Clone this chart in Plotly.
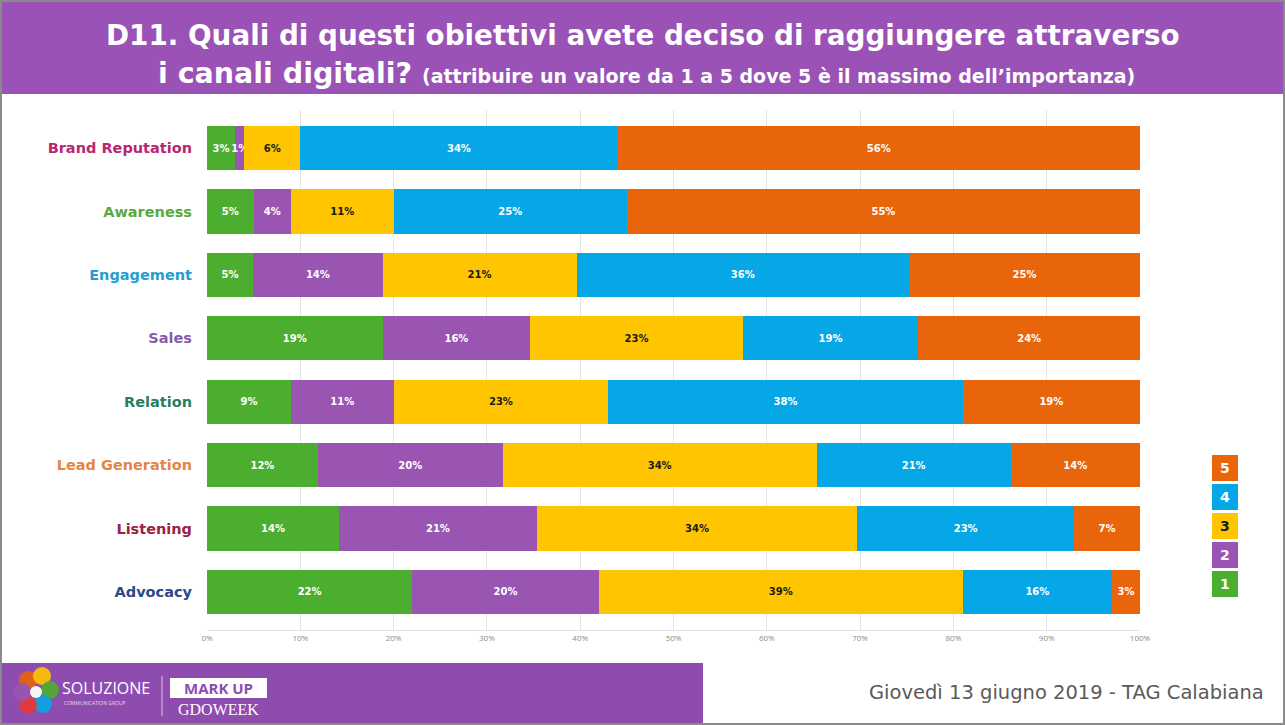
import plotly.graph_objects as go

# Survey objectives (top to bottom) and the share of answers per importance score
categories = ["Brand Reputation", "Awareness", "Engagement", "Sales", "Relation",
              "Lead Generation", "Listening", "Advocacy"]
category_colors = ["#b8266f", "#5aa83e", "#1f9fd2", "#8a5aab", "#2a7d5e",
                   "#e58443", "#9b2146", "#2b4a8a"]

levels = ["1", "2", "3", "4", "5"]
score_1 = [3, 5, 5, 19, 9, 12, 14, 22]
score_2 = [1, 4, 14, 16, 11, 20, 21, 20]
score_3 = [6, 11, 21, 23, 23, 34, 34, 39]
score_4 = [34, 25, 36, 19, 38, 21, 23, 16]
score_5 = [56, 55, 25, 24, 19, 14, 7, 3]
series = [score_1, score_2, score_3, score_4, score_5]

level_colors = ["#4cae2f", "#9a55b3", "#fec500", "#06a7e6", "#e8650c"]
level_text = ["white", "white", "#1a1a1a", "white", "white"]

x_ticks = list(range(0, 101, 10))
x_tick_labels = [f"{t}%" for t in x_ticks]

W, H = 1285, 725
PL, PR, PT, PB = 207, 1140, 110, 630  # plot area in pixels


def px(x):
    return (x - PL) / (PR - PL)


def py(y):
    return (PB - y) / (PB - PT)


fig = go.Figure()
for name, vals, col, tcol in zip(levels, series, level_colors, level_text):
    fig.add_trace(go.Bar(
        y=categories, x=vals, name=name, orientation="h",
        marker=dict(color=col, line=dict(width=0)),
        text=[f"<b>{v}%</b>" for v in vals],
        textposition="inside", insidetextanchor="middle", textangle=0,
        textfont=dict(family="DejaVu Sans, sans-serif", size=10, color=tcol),
        showlegend=False,
    ))

shapes = []
annotations = []

# header band
shapes.append(dict(type="rect", xref="paper", yref="paper", x0=px(0), x1=px(W),
                   y0=py(94), y1=py(0), fillcolor="#9a52b6", line=dict(width=0), layer="below"))
annotations.append(dict(xref="paper", yref="paper", x=px(643), y=py(35), showarrow=False,
                        text="<b>D11. Quali di questi obiettivi avete deciso di raggiungere attraverso</b>",
                        font=dict(family="DejaVu Sans, sans-serif", size=27.8, color="white"),
                        xanchor="center", yanchor="middle"))
annotations.append(dict(xref="paper", yref="paper", x=px(646), y=py(73), showarrow=False,
                        text="<b>i canali digitali? <span style='font-size:19px'>(attribuire un valore da 1 a 5 dove 5 è il massimo dell’importanza)</span></b>",
                        font=dict(family="DejaVu Sans, sans-serif", size=28.5, color="white"),
                        xanchor="center", yanchor="middle"))

# footer band with logos
shapes.append(dict(type="rect", xref="paper", yref="paper", x0=px(0), x1=px(703),
                   y0=py(H), y1=py(663), fillcolor="#8f4caf", line=dict(width=0), layer="below"))
logo = [(28, 680, "#e8650c"), (42, 676, "#fec500"), (50, 690, "#4cae2f"),
        (43, 704, "#06a7e6"), (28, 705, "#e53935"), (22, 692, "#9a55b3")]
for cx, cy, c in logo:
    shapes.append(dict(type="circle", xref="paper", yref="paper",
                       x0=px(cx - 9), x1=px(cx + 9), y0=py(cy + 9), y1=py(cy - 9),
                       fillcolor=c, opacity=0.9, line=dict(width=0)))
shapes.append(dict(type="circle", xref="paper", yref="paper",
                   x0=px(30), x1=px(42), y0=py(698), y1=py(686),
                   fillcolor="#f4f4f4", line=dict(width=0)))
annotations.append(dict(xref="paper", yref="paper", x=px(60), y=py(688), showarrow=False,
                        text="SOLUZIONE", xanchor="left", yanchor="middle",
                        font=dict(family="Open Sans, sans-serif", size=16, color="white")))
annotations.append(dict(xref="paper", yref="paper", x=px(62), y=py(703), showarrow=False,
                        text="COMMUNICATION GROUP", xanchor="left", yanchor="middle",
                        font=dict(family="Open Sans, sans-serif", size=5, color="#e8d8f0")))
shapes.append(dict(type="line", xref="paper", yref="paper", x0=px(162), x1=px(162),
                   y0=py(716), y1=py(676), line=dict(color="#d9c4e6", width=1)))
shapes.append(dict(type="rect", xref="paper", yref="paper", x0=px(170), x1=px(267),
                   y0=py(698), y1=py(678), fillcolor="white", line=dict(width=0)))
annotations.append(dict(xref="paper", yref="paper", x=px(218), y=py(688), showarrow=False,
                        text="<b>MARK UP</b>", xanchor="center", yanchor="middle",
                        font=dict(family="Open Sans, sans-serif", size=15, color="#8f4caf")))
annotations.append(dict(xref="paper", yref="paper", x=px(218), y=py(709), showarrow=False,
                        text="GDOWEEK", xanchor="center", yanchor="middle",
                        font=dict(family="Liberation Serif, serif", size=16, color="white")))
annotations.append(dict(xref="paper", yref="paper", x=px(1266), y=py(692), showarrow=False,
                        text="Giovedì 13 giugno 2019 - TAG Calabiana", xanchor="right", yanchor="middle",
                        font=dict(family="DejaVu Sans, sans-serif", size=19.5, color="#5a5a5a")))

# score key
for i, (name, col, tcol) in enumerate(zip(levels, level_colors, level_text)):
    cy = 597 - i * 29 - 13
    shapes.append(dict(type="rect", xref="paper", yref="paper", x0=px(1212), x1=px(1238),
                       y0=py(cy + 13), y1=py(cy - 13), fillcolor=col, line=dict(width=0)))
    annotations.append(dict(xref="paper", yref="paper", x=px(1225), y=py(cy), showarrow=False,
                            text=f"<b>{name}</b>", xanchor="center", yanchor="middle",
                            font=dict(family="DejaVu Sans, sans-serif", size=14, color=tcol)))

# outer frame
shapes.append(dict(type="rect", xref="paper", yref="paper", x0=px(1), x1=px(W - 1),
                   y0=py(H - 1), y1=py(1), line=dict(color="#8a8a8a", width=2),
                   fillcolor="rgba(0,0,0,0)"))

fig.update_layout(
    width=W, height=H, barmode="stack", barnorm="percent", bargap=0.3,
    margin=dict(l=PL, r=W - PR, t=PT, b=H - PB),
    paper_bgcolor="white", plot_bgcolor="white",
    uniformtext=dict(minsize=10, mode="show"),
    shapes=shapes, annotations=annotations,
    xaxis=dict(range=[0, 100], tickvals=x_ticks, ticktext=x_tick_labels,
               showgrid=True, gridcolor="#e4e4e4", gridwidth=1, zeroline=False,
               showline=True, linecolor="#e4e4e4", linewidth=1,
               tickfont=dict(family="Open Sans, sans-serif", size=8, color="#8a8a8a"),
               ticks="", fixedrange=True),
    yaxis=dict(categoryorder="array", categoryarray=categories, autorange=False,
               range=[7.6, -0.6], tickvals=categories,
               ticktext=[f"<b><span style='color:{c}'>{t}</span></b>"
                         for t, c in zip(categories, category_colors)],
               tickfont=dict(family="DejaVu Sans, sans-serif", size=14.5),
               ticklabelstandoff=14, showgrid=False, zeroline=False, ticks=""),
)

fig.write_html("out.html")
